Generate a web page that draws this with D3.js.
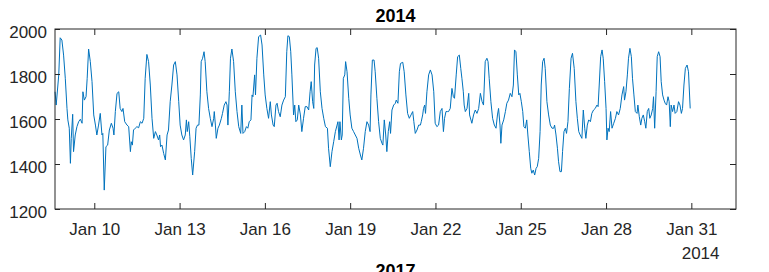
<!DOCTYPE html>
<html>
<head>
<meta charset="utf-8">
<script src="https://cdn.jsdelivr.net/npm/d3@7"></script>
<style>
  html, body { margin: 0; padding: 0; background: #fff; }
  svg { display: block; }
  text { font-family: "Liberation Sans", Arial, Helvetica, sans-serif; }
</style>
</head>
<body>
<svg id="chart" width="769" height="272"></svg>
<script>
// Day of January 2014 (fractional)
const days = [
8.62,8.66,8.75,8.80,8.86,8.92,8.98,9.04,9.07,9.12,9.16,9.19,9.24,9.27,9.33,9.39,9.45,9.51,9.57,9.60,
9.65,9.71,9.75,9.80,9.86,9.92,9.98,10.04,10.09,10.15,10.21,10.27,10.30,10.35,10.41,10.47,10.53,10.60,10.66,10.69,
10.74,10.80,10.86,10.91,10.97,11.01,11.07,11.15,11.21,11.27,11.30,11.34,11.38,11.44,11.50,11.56,11.62,11.68,11.74,11.79,
11.85,11.91,11.97,12.03,12.09,12.15,12.20,12.26,12.30,12.33,12.38,12.44,12.50,12.56,12.61,12.67,12.73,12.79,12.85,12.91,
12.97,13.02,13.08,13.14,13.20,13.24,13.27,13.32,13.36,13.41,13.46,13.53,13.58,13.63,13.68,13.73,13.76,13.81,13.86,13.90,
13.96,14.02,14.08,14.14,14.20,14.22,14.26,14.29,14.35,14.40,14.47,14.51,14.57,14.63,14.67,14.70,14.75,14.79,14.84,14.90,
14.96,15.02,15.08,15.15,15.19,15.23,15.29,15.35,15.40,15.45,15.51,15.55,15.58,15.64,15.67,15.72,15.78,15.85,15.90,15.96,
16.01,16.07,
16.13,16.19,16.23,16.29,16.33,16.39,16.43,16.48,16.54,16.60,16.66,16.72,16.77,16.81,16.86,16.91,16.95,17.01,17.05,17.09,
17.14,17.19,17.25,17.30,17.36,17.42,17.48,17.54,17.59,17.63,17.68,17.72,17.75,17.80,17.84,17.89,17.95,18.01,18.07,18.13,
18.20,18.24,18.30,18.36,18.42,18.48,18.54,18.57,18.61,18.64,18.69,18.72,18.76,18.81,18.84,18.89,18.95,19.00,19.06,19.12,
19.18,19.24,19.30,19.36,19.41,19.47,19.53,19.59,19.65,19.70,19.73,19.78,19.84,19.88,19.94,20.00,20.06,20.12,20.15,20.20,
20.25,20.29,20.34,20.39,20.42,20.47,20.53,20.59,20.62,20.68,20.73,20.77,20.85,20.90,20.96,21.02,21.08,21.14,21.20,21.24,
21.29,21.35,21.41,21.47,21.50,21.55,21.58,21.62,21.65,21.70,21.76,21.82,21.88,21.94,21.99,22.05,22.11,22.17,22.23,22.28,
22.32,22.37,22.42,22.46,22.52,22.58,22.63,22.67,22.73,22.78,22.84,22.89,22.93,22.98,23.01,23.05,23.11,23.17,23.20,
23.28,23.34,23.40,23.46,23.52,23.58,23.64,23.69,23.75,23.81,23.85,23.89,23.95,24.01,24.07,24.13,24.18,24.22,24.27,24.30,
24.34,24.40,24.46,24.51,24.57,24.63,24.69,24.74,24.78,24.83,24.88,24.93,24.97,25.02,25.07,25.11,25.16,25.21,25.25,25.30,
25.35,25.39,25.44,25.49,25.54,25.58,25.63,25.68,25.72,25.77,25.82,25.86,25.92,25.98,26.04,26.10,26.16,26.19,26.24,26.29,
26.33,26.38,26.43,26.47,26.52,26.57,26.61,26.66,26.71,26.77,26.82,26.88,26.94,26.99,27.04,27.09,27.15,27.20,27.25,27.29,
27.34,27.39,27.45,27.50,27.56,27.62,27.68,27.72,27.76,27.81,27.86,27.90,27.95,28.00,28.03,28.07,28.11,28.16,28.21,28.27,
28.33,28.38,28.44,28.50,28.56,28.62,28.65,28.70,28.75,28.79,28.84,28.89,28.93,28.98,29.03,29.09,29.12,29.17,29.22,29.26,
29.31,29.36,29.40,29.45,29.50,29.54,29.59,29.64,29.67,29.71,29.76,29.80,29.85,29.90,29.94,29.99,30.04,30.08,30.13,30.18,
30.22,30.26,30.29,30.34,30.39,30.43,30.49,30.55,30.60,30.65,30.69,30.74,30.79,30.85,30.90,30.96
];
// Load values
const load = [
1721,1662,1796,1961,1951,1884,1781,1647,1596,1559,1403,1514,1621,1455,1529,1566,1588,1599,1581,1721,
1684,1699,1781,1911,1855,1766,1618,1573,1529,1573,1625,1529,1536,1284,1477,1484,1551,1581,1559,1529,
1633,1714,1721,1647,1633,1647,1588,1573,1566,1455,1499,1484,1551,1559,1566,1561,1588,1581,1603,1781,
1887,1855,1751,1603,1514,1544,1529,1507,1529,1477,1484,1447,1418,1529,1551,1677,1751,1840,1855,1796,
1677,1573,1529,1507,1529,1596,1544,1588,1521,1425,1351,1455,1559,1573,1573,1707,1855,1870,1899,1855,
1721,1647,1603,1566,1603,1633,1573,1514,1559,1573,1603,1625,1662,1677,1662,1573,1721,1870,1911,1855,
1721,1633,1566,1536,1662,1536,1544,1566,1559,1588,1596,1707,1699,1796,1707,1870,1966,1973,1929,1796,
1707,1647,
1603,1677,1618,1573,1566,1662,1670,1633,1610,1662,1684,1699,1899,1970,1966,1899,1796,1618,1662,1588,
1596,1662,1618,1544,1603,1655,1655,1640,1721,1766,1677,1647,1840,1914,1917,1870,1721,1647,1603,1566,
1559,1470,1388,1455,1499,1544,1573,1588,1507,1588,1507,1529,1781,1796,1855,1810,1692,1618,1559,1544,
1529,1514,1470,1440,1418,1470,1544,1588,1573,1544,1707,1862,1862,1810,1692,1588,1514,1492,1484,1596,
1529,1455,1544,1588,1536,1640,1662,1670,1684,1670,1810,1847,1852,1810,1707,1625,1603,1618,1633,1588,
1536,1551,1573,1573,1588,1618,1647,1662,1625,1721,1796,1818,1796,1721,1581,1566,1573,1633,1647,1544,
1603,1633,1633,1633,1647,1736,1699,1692,1796,1877,1884,1825,1781,1721,1662,1633,1647,1714,1618,
1581,1618,1640,1625,1647,1714,1677,1662,1855,1870,1855,1781,1677,1603,1573,1559,1618,1647,1573,1492,
1573,1596,1633,1670,1684,1714,1699,1751,1907,1899,1796,1707,1714,1677,1633,1566,1559,1596,1529,1455,
1381,1359,1373,1351,1381,1388,1425,1544,1751,1855,1870,1825,1677,1618,1573,1559,1559,1573,1529,1470,
1410,1366,1366,1455,1544,1559,1536,1588,1736,1870,1892,1825,1677,1603,1544,1529,1514,1640,1559,1514,
1573,1596,1588,1625,1640,1647,1662,1655,1751,1877,1907,1870,1766,1647,1507,1559,1544,1633,1559,1581,
1603,1633,1618,1647,1707,1744,1684,1721,1796,1870,1914,1877,1781,1707,1633,1625,1662,1610,1573,1603,
1618,1588,1559,1633,1647,1603,1618,1647,1699,1559,1721,1877,1899,1877,1766,1707,1684,1670,1662,1699,
1677,1566,1662,1633,1662,1625,1633,1677,1662,1625,1647,1751,1825,1840,1810,1647
];
const yTicks = [1200, 1400, 1600, 2000, 1800].sort((a, b) => a - b);
const xTickDays = [10, 13, 16, 19, 22, 25, 28, 31];
const titleText = "2014";
const yearLabel = "2014";
const nextTitle = "2017";

const toDate = d => new Date(new Date(2014, 0, 1).getTime() + (d - 1) * 864e5);
const data = days.map((d, i) => ({ t: toDate(d), v: load[i] }));

const svg = d3.select("#chart");
const L = 55, R = 736, T = 29, B = 209;
const axisColor = "#262626";

const x = d3.scaleTime()
  .domain([new Date(2014, 0, 8, 14, 50), new Date(2014, 1, 1, 13, 42)])
  .range([L, R]);
const y = d3.scaleLinear().domain([1200, 2000]).range([B, T]);

const xTicks = xTickDays.map(d => new Date(2014, 0, d));
const fmt = d3.timeFormat("%b %-d");

// line
svg.append("path")
  .datum(data)
  .attr("fill", "none")
  .attr("stroke", "#0072BD")
  .attr("stroke-width", 1)
  .attr("stroke-linejoin", "round")
  .attr("d", d3.line().x(d => x(d.t)).y(d => y(d.v)));

// axes
const fs = 17;
const gB = svg.append("g").attr("transform", `translate(0,${B})`)
  .call(d3.axisBottom(x).tickValues(xTicks).tickFormat(fmt).tickSize(-6));
const gT = svg.append("g").attr("transform", `translate(0,${T})`)
  .call(d3.axisTop(x).tickValues(xTicks).tickFormat("").tickSize(-6));
const gL = svg.append("g").attr("transform", `translate(${L},0)`)
  .call(d3.axisLeft(y).tickValues(yTicks).tickFormat(d3.format("d")).tickSize(-5));
const gR = svg.append("g").attr("transform", `translate(${R},0)`)
  .call(d3.axisRight(y).tickValues(yTicks).tickFormat("").tickSize(-6));

[gB, gT, gL, gR].forEach(g => {
  g.select(".domain").remove();
  g.selectAll(".tick line").attr("stroke", axisColor);
  g.selectAll("text").attr("fill", axisColor)
    .style("font-family", '"Liberation Sans", Arial, sans-serif')
    .style("font-size", fs + "px");
});
gB.selectAll(".tick text").attr("y", 26).attr("dy", 0);
gL.selectAll(".tick text").attr("x", -8).attr("dy", 0).attr("y", 8.5);

// box
svg.append("rect")
  .attr("x", L).attr("y", T).attr("width", R - L).attr("height", B - T)
  .attr("fill", "none").attr("stroke", axisColor).attr("stroke-width", 1);

// year secondary label
svg.append("text")
  .attr("x", 719.5).attr("y", 259)
  .attr("text-anchor", "end")
  .attr("fill", axisColor)
  .style("font-size", fs + "px")
  .text(yearLabel);

// title
svg.append("text")
  .attr("x", (L + R) / 2).attr("y", 22)
  .attr("text-anchor", "middle")
  .attr("fill", "#000")
  .style("font-size", "18px").style("font-weight", "bold")
  .text(titleText);

// next subplot's title (cut off by the window)
svg.append("text")
  .attr("x", (L + R) / 2).attr("y", 277)
  .attr("text-anchor", "middle")
  .attr("fill", "#000")
  .style("font-size", "18px").style("font-weight", "bold")
  .text(nextTitle);
</script>
</body>
</html>
